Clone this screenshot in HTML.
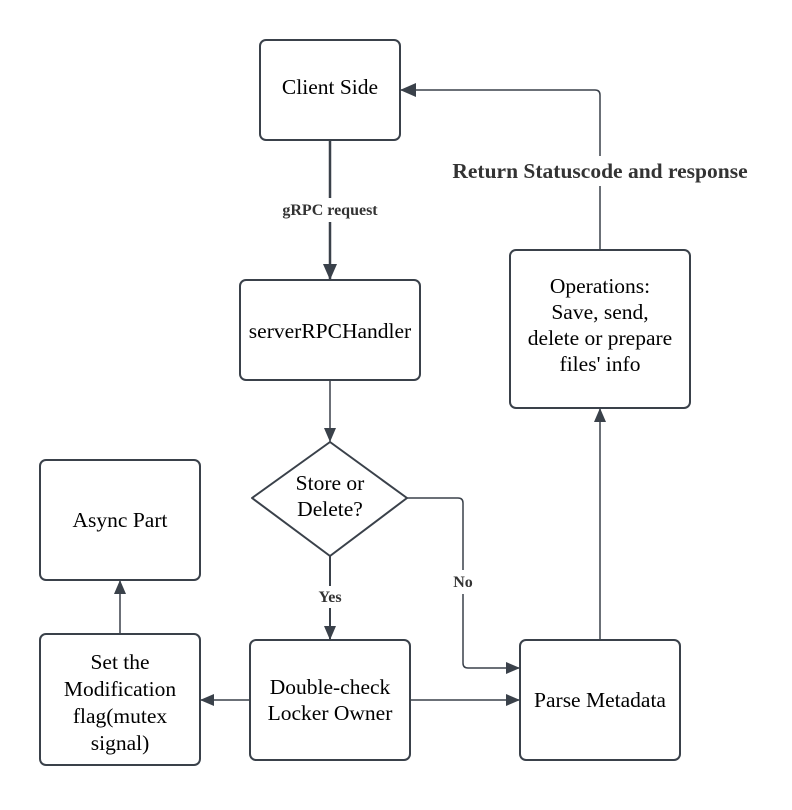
<!DOCTYPE html>
<html><head><style>
body{margin:0;background:#fff;}
</style></head><body>
<svg width="792" height="805" viewBox="0 0 792 805" xmlns="http://www.w3.org/2000/svg" font-family="Liberation Serif, serif">
<defs>
<marker id="a" markerWidth="14" markerHeight="12" refX="14" refY="6" orient="auto" markerUnits="userSpaceOnUse">
<path d="M0,0 L14,6 L0,12 z" fill="#3a414a"/></marker>
<marker id="b" markerWidth="16" markerHeight="14" refX="16" refY="7" orient="auto" markerUnits="userSpaceOnUse">
<path d="M0,0 L16,7 L0,14 z" fill="#3a414a"/></marker>
</defs>
<g fill="#fff" stroke="#3a414a" stroke-width="2">
<rect x="260" y="40" width="140" height="100" rx="6"/>
<rect x="240" y="280" width="180" height="100" rx="6"/>
<path d="M330,442 L407,498 L330,556 L252,498 Z" stroke-linejoin="round"/>
<rect x="40" y="460" width="160" height="120" rx="6"/>
<rect x="40" y="634" width="160" height="131" rx="6"/>
<rect x="250" y="640" width="160" height="120" rx="6"/>
<rect x="520" y="640" width="160" height="120" rx="6"/>
<rect x="510" y="250" width="180" height="158" rx="6"/>
</g>
<g fill="none" stroke="#3a414a">
<path d="M330,140 V198 M330,222 V280" stroke-width="2.5" marker-end="url(#b)"/>
<path d="M330,380 V442" stroke-width="1.5" marker-end="url(#a)"/>
<path d="M330,556 V586 M330,608 V640" stroke-width="2" marker-end="url(#a)"/>
<path d="M407,498 H458 Q463,498 463,503 V570 M463,594 V663 Q463,668 468,668 H520" stroke-width="1.5" marker-end="url(#a)"/>
<path d="M250,700 H200" stroke-width="1.5" marker-end="url(#a)"/>
<path d="M410,700 H520" stroke-width="1.5" marker-end="url(#a)"/>
<path d="M120,634 V580" stroke-width="1.5" marker-end="url(#a)"/>
<path d="M600,640 V408" stroke-width="1.5" marker-end="url(#a)"/>
<path d="M600,250 V186 M600,156 V95 Q600,90 595,90 H400" stroke-width="1.5" marker-end="url(#b)"/>
</g>
<g font-size="21.5" text-anchor="middle" fill="#000" font-family="Liberation Serif, serif">
<text x="330" y="94">Client Side</text>
<text x="330" y="338">serverRPCHandler</text>
<text x="330" y="490">Store or</text>
<text x="330" y="516">Delete?</text>
<text x="120" y="527">Async Part</text>
<text x="120" y="669">Set the</text>
<text x="120" y="696">Modification</text>
<text x="120" y="723">flag(mutex</text>
<text x="120" y="750">signal)</text>
<text x="330" y="694">Double-check</text>
<text x="330" y="720">Locker Owner</text>
<text x="600" y="707">Parse Metadata</text>
<text x="600" y="293">Operations:</text>
<text x="600" y="319">Save, send,</text>
<text x="600" y="345">delete or prepare</text>
<text x="600" y="371">files' info</text>
</g>
<g font-weight="bold" text-anchor="middle" fill="#333" font-family="Liberation Serif, serif">
<text x="330" y="215" font-size="16">gRPC request</text>
<text x="330" y="602" font-size="16">Yes</text>
<text x="463" y="587" font-size="16">No</text>
<text x="600" y="178" font-size="21.5">Return Statuscode and response</text>
</g>
</svg>
</body></html>
